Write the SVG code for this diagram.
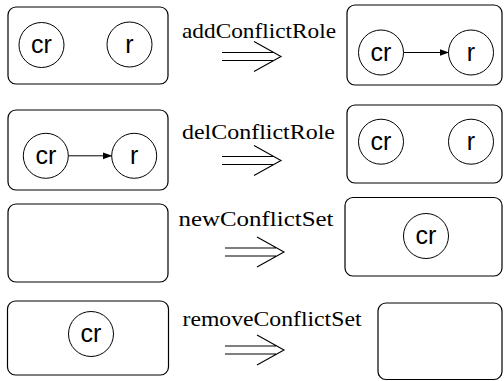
<svg xmlns="http://www.w3.org/2000/svg" xmlns:xlink="http://www.w3.org/1999/xlink" width="504" height="381" viewBox="0 0 504 381">
<style>
.box{fill:none;stroke:#000;stroke-width:1.2}
.node{fill:none;stroke:#000;stroke-width:1}
.lbl{font-family:"Liberation Sans",Arial,sans-serif;font-size:25px;text-anchor:middle;fill:#000}
.op{font-family:"Liberation Serif","Times New Roman",serif;font-size:21px;fill:#000}
.edge{stroke:#000;stroke-width:1;fill:none}
.dbl{fill:none;stroke:#000;stroke-width:1.1}
</style>
<defs>
<marker id="ah" markerWidth="10" markerHeight="8" refX="9" refY="3.5" orient="auto" markerUnits="userSpaceOnUse">
<path d="M0,0 L9.5,3.5 L0,7 Z" fill="#000"/>
</marker>
<path id="dblarrow" class="dbl" d="M0,-4 H51 M0,4 H51 M32,-15 L59,0 L32,15"/>
</defs>

<!-- Row 1 -->
<g id="r1-left">
<rect class="box" x="8" y="7" width="160" height="77" rx="8"/>
<g id="r1-left-cr"><circle class="node" cx="41.5" cy="45" r="22.5"/><text class="lbl" x="41.5" y="53">cr</text></g>
<g id="r1-left-r"><circle class="node" cx="129.5" cy="44.5" r="22.5"/><text class="lbl" x="129.5" y="52.5">r</text></g>
</g>
<g id="r1-op">
<text class="op" x="182" y="38" textLength="154" lengthAdjust="spacingAndGlyphs">addConflictRole</text>
<use xlink:href="#dblarrow" transform="translate(222,56.5)"/>
</g>
<g id="r1-right">
<rect class="box" x="347" y="5" width="155" height="80" rx="8"/>
<g id="r1-right-cr"><circle class="node" cx="381" cy="52.5" r="22.5"/><text class="lbl" x="381" y="60.5">cr</text></g>
<g id="r1-right-r"><circle class="node" cx="471" cy="52.5" r="22.5"/><text class="lbl" x="471" y="60.5">r</text></g>
</g>

<!-- Row 2 -->
<g id="r2-left">
<rect class="box" x="8" y="110" width="160" height="80" rx="8"/>
<g id="r2-left-cr"><circle class="node" cx="45.8" cy="155.8" r="22.5"/><text class="lbl" x="45.8" y="163.8">cr</text></g>
<g id="r2-left-r"><circle class="node" cx="134.2" cy="155.8" r="22.5"/><text class="lbl" x="134.2" y="163.8">r</text></g>
</g>
<g id="r2-op">
<text class="op" x="182" y="139" textLength="153" lengthAdjust="spacingAndGlyphs">delConflictRole</text>
<use xlink:href="#dblarrow" transform="translate(222,160.5)"/>
</g>
<g id="r2-right">
<rect class="box" x="347" y="105" width="155" height="78" rx="8"/>
<g id="r2-right-cr"><circle class="node" cx="381" cy="141.7" r="22.5"/><text class="lbl" x="381" y="149.7">cr</text></g>
<g id="r2-right-r"><circle class="node" cx="471" cy="141.7" r="22.5"/><text class="lbl" x="471" y="149.7">r</text></g>
</g>

<!-- Row 3 -->
<g id="r3-left">
<rect class="box" x="8" y="204" width="160" height="78" rx="8"/>
</g>
<g id="r3-op">
<text class="op" x="178.5" y="226" textLength="155" lengthAdjust="spacingAndGlyphs">newConflictSet</text>
<use xlink:href="#dblarrow" transform="translate(225,252)"/>
</g>
<g id="r3-right">
<rect class="box" x="345" y="197.5" width="157" height="78.5" rx="8"/>
<g id="r3-right-cr"><circle class="node" cx="426" cy="236" r="22.5"/><text class="lbl" x="426" y="244">cr</text></g>
</g>

<!-- Row 4 -->
<g id="r4-left">
<rect class="box" x="7.5" y="301" width="161" height="74" rx="8"/>
<g id="r4-left-cr"><circle class="node" cx="91" cy="334" r="22.5"/><text class="lbl" x="91" y="342">cr</text></g>
</g>
<g id="r4-op">
<text class="op" x="182.5" y="326" textLength="179" lengthAdjust="spacingAndGlyphs">removeConflictSet</text>
<use xlink:href="#dblarrow" transform="translate(225,350)"/>
</g>
<g id="r4-right">
<rect class="box" x="378" y="303" width="124" height="76.5" rx="8"/>
</g>

<!-- Connectors -->
<g id="connectors">
<line class="edge" x1="403.5" y1="52.5" x2="448.5" y2="52.5" marker-end="url(#ah)"/>
<line class="edge" x1="68.3" y1="155.8" x2="111.7" y2="155.8" marker-end="url(#ah)"/>
</g>
</svg>
